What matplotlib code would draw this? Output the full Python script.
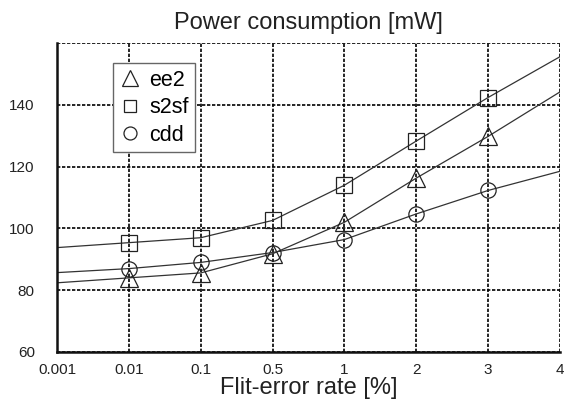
import numpy as np
from matplotlib import pyplot as plt

plt.rcParams['font.family'] = ['Liberation Sans', 'DejaVu Sans']

x_labels = ['0.001', '0.01', '0.1', '0.5', '1', '2', '3', '4']
ee2 = [82.4, 84.0, 85.6, 91.8, 102.0, 116.3, 129.8, 144.2]
s2sf = [93.8, 95.4, 97.0, 102.6, 114.0, 128.3, 142.4, 155.6]
cdd = [85.7, 87.0, 89.0, 92.2, 96.4, 104.7, 112.3, 118.5]

pos = np.arange(len(x_labels))
marks = list(range(1, len(x_labels) - 1))

fig = plt.figure(figsize=(5.65, 4.11), dpi=100)
ax = fig.add_axes([0.101, 0.1436, 0.890, 0.7514])

style = dict(color='#333333', lw=0.9, mfc='none', mec='#222222', mew=0.9, markevery=marks)
ax.plot(pos, ee2, marker='^', ms=13, label='ee2', **style)
ax.plot(pos, s2sf, marker='s', ms=11, label='s2sf', **style)
ax.plot(pos, cdd, marker='o', ms=11, label='cdd', **style)

ax.set_xlim(0, len(x_labels) - 1)
ax.set_ylim(60, 160)
ax.set_xticks(pos)
ax.set_xticklabels(x_labels)
ax.set_yticks([60, 80, 100, 120, 140])
ax.set_yticks([160], minor=True)
ax.tick_params(axis='both', which='both', length=0, labelsize=11, colors='#222222')
ax.tick_params(axis='y', pad=16)
ax.tick_params(axis='x', pad=8)
ax.grid(True, which='both', color='black', linestyle=(0, (2, 1)), linewidth=1.2)
ax.set_axisbelow(True)

for s in ['top', 'right']:
    ax.spines[s].set_visible(False)
for s in ['left', 'bottom']:
    ax.spines[s].set_linewidth(1.8)
    ax.spines[s].set_color('#111111')

ax.set_title('Power consumption [mW]', fontsize=17, color='#222222', pad=10)
ax.set_xlabel('Flit-error rate [%]', fontsize=17, color='#222222', labelpad=0)

leg = ax.legend(loc='upper left', bbox_to_anchor=(0.111, 0.935), borderaxespad=0,
                fontsize=15.5, frameon=True, fancybox=False, edgecolor='#666666',
                framealpha=1, handlelength=1.0, handletextpad=0.4, borderpad=0.3,
                labelspacing=0.3, markerscale=0.85)
for h in leg.get_lines():
    h.set_linestyle('none')
leg.get_frame().set_linewidth(1.0)

fig.savefig('out.png', dpi=100)
